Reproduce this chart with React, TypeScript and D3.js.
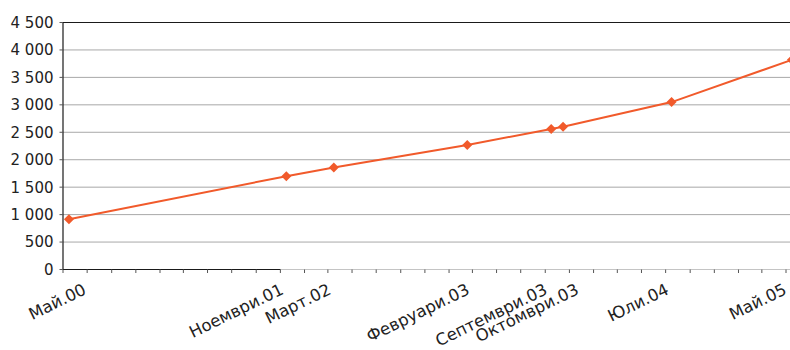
import React from "react";
import * as d3 from "d3";

// Series: dates (month points, drawn mid-month) and values
const pointMonths: string[] = [
  "2000-05", "2001-11", "2002-03", "2003-02", "2003-09", "2003-10", "2004-07", "2005-05",
];
const pointLabels: string[] = [
  "Май.00", "Ноември.01", "Март.02", "Февруари.03", "Септември.03", "Октомври.03", "Юли.04", "Май.05",
];
const pointValues: number[] = [915, 1700, 1860, 2270, 2560, 2600, 3050, 3820];

const yTicks: number[] = [0, 500, 1000, 1500, 2000, 2500, 3000, 3500, 4000, 4500];

const W = 790;
const H = 350;
const LEFT = 63;
const TOP = 22.5;
const BOTTOM = 269.5;

const parseMonth = d3.timeParse("%Y-%m");
const fmtTick = (v: number) => d3.format(",")(v).replace(/,/g, "\u00a0");

// Extra horizontal shift for category labels that would collide
const labelNudge: Record<string, number> = {
  "Май.00": 20,
  "Февруари.03": 5,
  "Септември.03": -1,
  "Октомври.03": 18.5,
  "Май.05": -2.5,
};

export default function App() {
  const start = parseMonth("2000-05")!;
  const end = parseMonth("2005-05")!;
  const x = d3.scaleTime().domain([start, end]).range([LEFT, 786]);
  const y = d3.scaleLinear().domain([0, 4500]).range([BOTTOM, TOP]);

  const dates = pointMonths.map((m) => parseMonth(m)!);
  const mid = (d: Date) => d3.timeDay.offset(d, 15);

  const pts: [number, number][] = dates.map((d, i) => [x(mid(d)), y(pointValues[i])]);
  const line = d3.line()(pts) || "";

  const minorTicks = d3.timeMonth.every(2)!.range(start, d3.timeMonth.offset(end, 1));

  const font = "'DejaVu Sans', 'Noto Sans', sans-serif";
  const color = "#f15a2b";
  const dSize = 5;

  return (
    <svg
      width={W}
      height={H}
      lang="bg"
      style={{ position: "absolute", left: 0, top: 0, background: "#fff" }}
      fontFamily={font}
    >
      {/* horizontal gridlines */}
      {yTicks.slice(1, -1).map((t) => (
        <line key={t} x1={LEFT} x2={W} y1={y(t)} y2={y(t)} stroke="#a8a8a8" strokeWidth={1} />
      ))}
      {/* top frame */}
      <line x1={LEFT} x2={W} y1={TOP} y2={TOP} stroke="#1a1a1a" strokeWidth={1.2} />
      {/* bottom axis */}
      <line x1={LEFT} x2={W} y1={BOTTOM} y2={BOTTOM} stroke="#c4c4c4" strokeWidth={1.2} />
      <line x1={LEFT} x2={x(parseMonth("2001-11")!)} y1={BOTTOM} y2={BOTTOM} stroke="#1a1a1a" strokeWidth={1.2} />
      {minorTicks.map((d, i) => (
        <line key={i} x1={x(d)} x2={x(d)} y1={BOTTOM} y2={BOTTOM + 3.5} stroke="#555" strokeWidth={1} />
      ))}
      {/* left axis */}
      <line x1={LEFT} x2={LEFT} y1={TOP} y2={BOTTOM} stroke="#1a1a1a" strokeWidth={1.2} />
      {yTicks.map((t) => (
        <g key={t}>
          <line x1={LEFT - 3.5} x2={LEFT} y1={y(t)} y2={y(t)} stroke="#555" strokeWidth={1} />
          <text x={53.5} y={y(t)} dy="0.36em" textAnchor="end" fontSize={15} fill="#222">
            {fmtTick(t)}
          </text>
        </g>
      ))}
      {/* category labels */}
      {dates.map((d, i) => {
        const lx = x(d) - 1 + (labelNudge[pointLabels[i]] || 0);
        const ly = BOTTOM + 13;
        return (
          <text
            key={i}
            lang="bg"
            transform={`translate(${lx},${ly}) rotate(-26)`}
            textAnchor="end"
            dy="0.73em"
            fontSize={16.5}
            fill="#222"
          >
            {pointLabels[i]}
          </text>
        );
      })}
      {/* series */}
      <path d={line} fill="none" stroke={color} strokeWidth={2} />
      {pts.map(([px, py], i) => (
        <path
          key={i}
          d={`M${px},${py - dSize}L${px + dSize},${py}L${px},${py + dSize}L${px - dSize},${py}Z`}
          fill={color}
        />
      ))}
    </svg>
  );
}
